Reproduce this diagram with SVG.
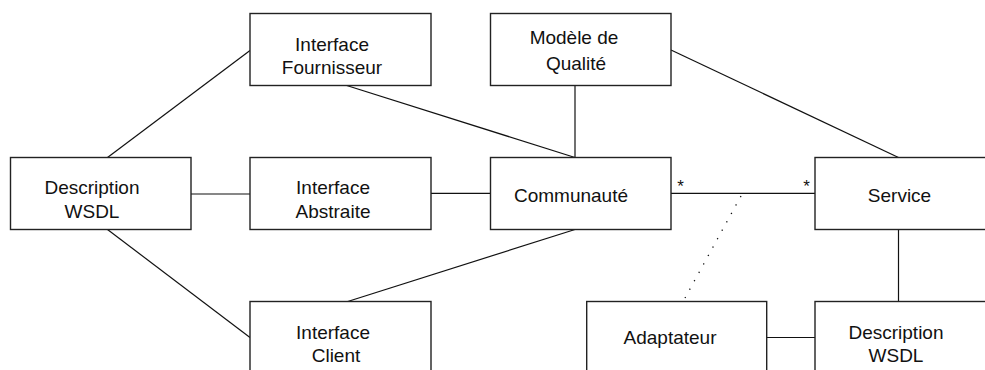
<svg xmlns="http://www.w3.org/2000/svg" width="985" height="370" viewBox="0 0 985 370">
<style>
.box{fill:#fff;stroke:#222;stroke-width:1.4}
.t{font-family:"Liberation Sans",Arial,sans-serif;font-size:19px;fill:#111;text-anchor:middle}
.c line{stroke:#111;stroke-width:1.2}
.star{font-family:"Liberation Sans",Arial,sans-serif;font-size:17px;fill:#111;text-anchor:middle}
</style>
<rect width="985" height="370" fill="#fff"/>
<g class="c" id="connectors">
<line x1="107.5" y1="157.5" x2="250" y2="50.5"/>
<line x1="191" y1="194" x2="250" y2="194"/>
<line x1="107.5" y1="229.5" x2="250" y2="337.5"/>
<line x1="346.7" y1="85.5" x2="575" y2="157.5"/>
<line x1="431" y1="193.3" x2="490.5" y2="193.3"/>
<line x1="575" y1="229.5" x2="347.7" y2="301.5"/>
<line x1="575" y1="85.5" x2="575" y2="157.5"/>
<line x1="671" y1="50" x2="898.5" y2="157.5"/>
<line x1="671" y1="193.3" x2="815" y2="193.3"/>
<line x1="898.5" y1="229.5" x2="898.5" y2="301.5"/>
<line x1="766.7" y1="337.5" x2="815" y2="337.5"/>
<line x1="741" y1="196" x2="685" y2="298" stroke-dasharray="1.3 8.3" style="stroke-width:1.3"/>
<text class="star" x="680.5" y="192">*</text>
<text class="star" x="806.5" y="192">*</text>
</g>
<g id="desc-wsdl-left"><rect class="box" x="10.5" y="157.5" width="180.5" height="72"/><text class="t" x="92" y="194.3">Description</text><text class="t" x="92" y="218.3">WSDL</text></g>
<g id="interface-fournisseur"><rect class="box" x="250" y="13.5" width="181" height="72"/><text class="t" x="332" y="50.7">Interface</text><text class="t" x="332" y="74.3">Fournisseur</text></g>
<g id="interface-abstraite"><rect class="box" x="250" y="157.5" width="181" height="72"/><text class="t" x="333" y="194.3">Interface</text><text class="t" x="333" y="218.3">Abstraite</text></g>
<g id="interface-client"><rect class="box" x="250" y="301.5" width="181" height="72"/><text class="t" x="333" y="339">Interface</text><text class="t" x="336" y="362">Client</text></g>
<g id="modele-qualite"><rect class="box" x="490.5" y="13.5" width="180.5" height="72"/><text class="t" x="574" y="44">Modèle de</text><text class="t" x="576" y="70">Qualité</text></g>
<g id="communaute"><rect class="box" x="490.5" y="157.5" width="180.5" height="72"/><text class="t" x="571" y="201.7">Communauté</text></g>
<g id="service"><rect class="box" x="815" y="157.5" width="180" height="72"/><text class="t" x="899.5" y="201.7">Service</text></g>
<g id="adaptateur"><rect class="box" x="586.7" y="301.5" width="180" height="72"/><text class="t" x="670" y="344">Adaptateur</text></g>
<g id="desc-wsdl-right"><rect class="box" x="815" y="301.5" width="180" height="72"/><text class="t" x="896" y="339">Description</text><text class="t" x="896" y="361.7">WSDL</text></g>
</svg>
